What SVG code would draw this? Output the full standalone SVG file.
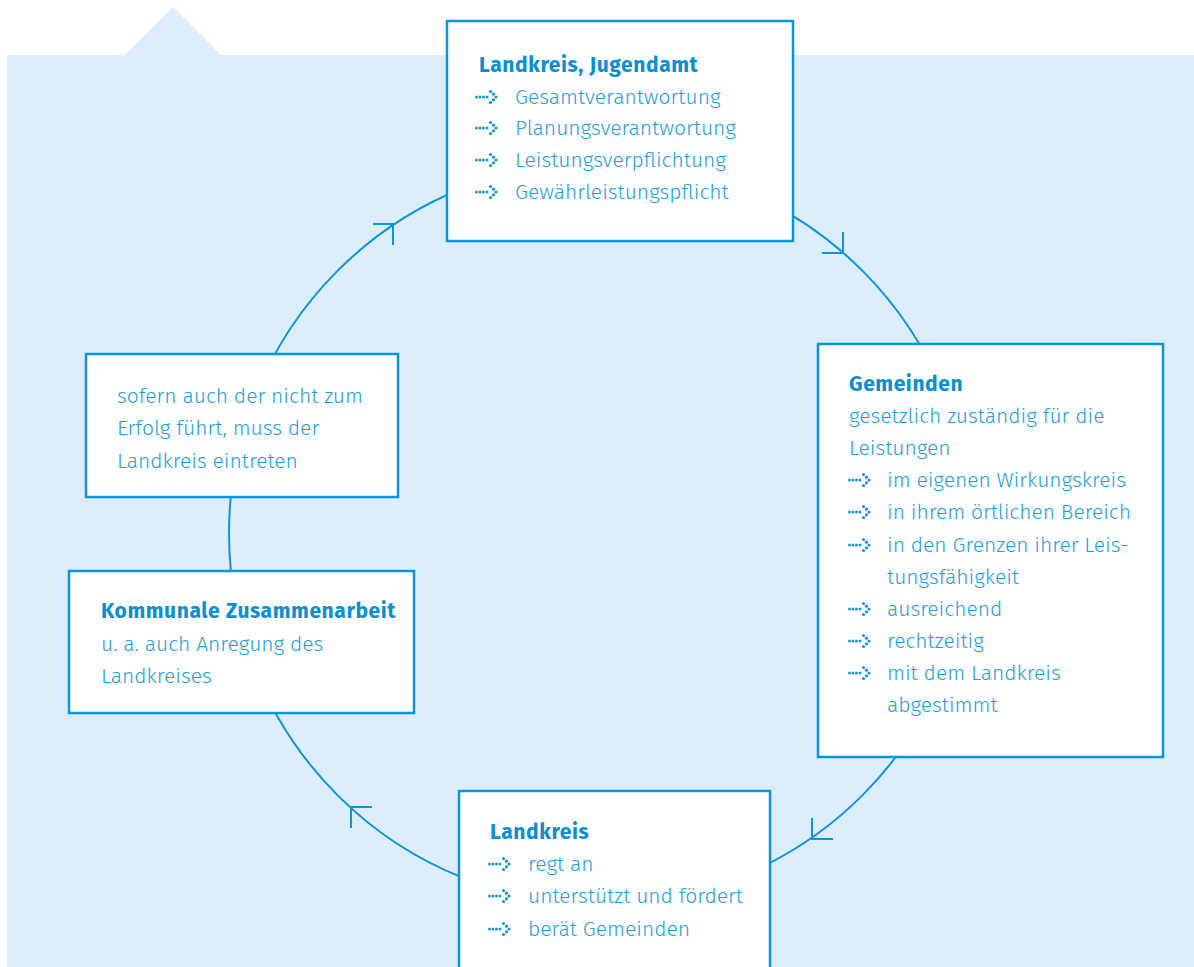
<svg xmlns="http://www.w3.org/2000/svg" xmlns:xlink="http://www.w3.org/1999/xlink" width="1194" height="967" viewBox="0 0 1194 967">
<style>
.bg{fill:#deedfb}
.box{fill:#fff;stroke:#0996dc;stroke-width:2.5}
.line{fill:none;stroke:#0996dc;stroke-width:2}
.t{font-family:"Fira Sans","Noto Sans","Open Sans",sans-serif;font-size:21px;font-weight:300;fill:#1f9edb}
.b{font-family:"Fira Sans","Noto Sans","Open Sans",sans-serif;font-size:21px;font-weight:bold;letter-spacing:0.6px;fill:#0b8fd2}
.dot{fill:#1a96d6}
</style>
<defs>
<g id="bullet">
<circle class="dot" cx="1.5" cy="0" r="1.5"/>
<circle class="dot" cx="5" cy="0" r="1.5"/>
<circle class="dot" cx="8.5" cy="0" r="1.5"/>
<circle class="dot" cx="12" cy="0" r="1.5"/>
<circle class="dot" cx="15.5" cy="-5.5" r="1.6"/>
<circle class="dot" cx="18.5" cy="-2.8" r="1.6"/>
<circle class="dot" cx="21" cy="0" r="1.6"/>
<circle class="dot" cx="18.5" cy="2.8" r="1.6"/>
<circle class="dot" cx="15.5" cy="5.5" r="1.6"/>
</g>
</defs>
<rect class="bg" x="7" y="55" width="1187" height="912"/>
<polygon class="bg" points="125,55 173,7 221,55"/>
<g id="connectors">
<circle class="line" cx="600" cy="533" r="371"/>
<path class="line" d="M373,224 H393 V245"/>
<path class="line" d="M843,232 V253 H822"/>
<path class="line" d="M812,818 V839 H833"/>
<path class="line" d="M372,807 H351 V828"/>
</g>
<g id="node-landkreis-jugendamt">
<rect class="box" x="447" y="21" width="346" height="220"/>
<text class="b" x="479" y="72">Landkreis, Jugendamt</text>
<use xlink:href="#bullet" x="475" y="97"/>
<text class="t" x="515" y="104">Gesamtverantwortung</text>
<use xlink:href="#bullet" x="475" y="128"/>
<text class="t" x="515" y="135">Planungsverantwortung</text>
<use xlink:href="#bullet" x="475" y="160"/>
<text class="t" x="515" y="167">Leistungsverpflichtung</text>
<use xlink:href="#bullet" x="475" y="192"/>
<text class="t" x="515" y="199">Gewährleistungspflicht</text>
</g>
<g id="node-gemeinden">
<rect class="box" x="818" y="344" width="345" height="413"/>
<text class="b" x="849" y="391">Gemeinden</text>
<text class="t" x="849" y="423">gesetzlich zuständig für die</text>
<text class="t" x="849" y="455">Leistungen</text>
<use xlink:href="#bullet" x="848" y="480"/>
<text class="t" x="887" y="487">im eigenen Wirkungskreis</text>
<use xlink:href="#bullet" x="848" y="512"/>
<text class="t" x="887" y="519">in ihrem örtlichen Bereich</text>
<use xlink:href="#bullet" x="848" y="545"/>
<text class="t" x="887" y="552">in den Grenzen ihrer Leis-</text>
<text class="t" x="887" y="584">tungsfähigkeit</text>
<use xlink:href="#bullet" x="848" y="609"/>
<text class="t" x="887" y="616">ausreichend</text>
<use xlink:href="#bullet" x="848" y="641"/>
<text class="t" x="887" y="648">rechtzeitig</text>
<use xlink:href="#bullet" x="848" y="673"/>
<text class="t" x="887" y="680">mit dem Landkreis</text>
<text class="t" x="887" y="712">abgestimmt</text>
</g>
<g id="node-landkreis">
<rect class="box" x="459" y="791" width="311" height="190"/>
<text class="b" x="490" y="839">Landkreis</text>
<use xlink:href="#bullet" x="488" y="864"/>
<text class="t" x="528" y="871">regt an</text>
<use xlink:href="#bullet" x="488" y="896"/>
<text class="t" x="528" y="903">unterstützt und fördert</text>
<use xlink:href="#bullet" x="488" y="929"/>
<text class="t" x="528" y="936">berät Gemeinden</text>
</g>
<g id="node-kommunale-zusammenarbeit">
<rect class="box" x="69" y="571" width="345" height="142"/>
<text class="b" x="101" y="618">Kommunale Zusammenarbeit</text>
<text class="t" x="101" y="651">u. a. auch Anregung des</text>
<text class="t" x="101" y="683">Landkreises</text>
</g>
<g id="node-landkreis-eintreten">
<rect class="box" x="86" y="354" width="312" height="143"/>
<text class="t" x="117" y="403">sofern auch der nicht zum</text>
<text class="t" x="117" y="435">Erfolg führt, muss der</text>
<text class="t" x="117" y="468">Landkreis eintreten</text>
</g>
</svg>
